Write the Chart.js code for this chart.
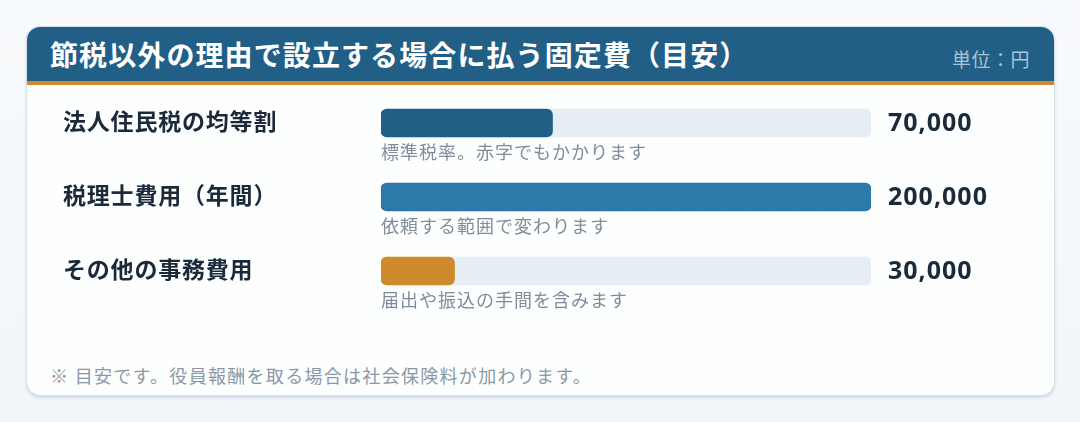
<!DOCTYPE html>
<html lang="ja">
<head>
<meta charset="utf-8">
<script src="https://cdn.jsdelivr.net/npm/chart.js@4.4.1/dist/chart.umd.min.js"></script>
<style>
  html, body { margin: 0; padding: 0; }
  body {
    width: 1080px; height: 422px; overflow: hidden;
    background: linear-gradient(180deg, #f8fafc 0%, #f1f6fa 100%);
    font-family: "Noto Sans CJK JP", "Noto Sans", sans-serif;
    position: relative;
  }
  .card {
    position: absolute; left: 26px; top: 26px; width: 1027px; height: 368px;
    background: #fdfefe; border: 1px solid #d6e1ea; border-radius: 14px;
    box-shadow: 0 2px 3px rgba(150, 175, 200, 0.35);
    overflow: hidden;
  }
  .head {
    position: absolute; left: 0; top: 0; right: 0; height: 54px;
    background: #215f87; border-bottom: 4px solid #cf8a2c;
  }
  .title {
    position: absolute; left: 23px; top: 27px; transform: translateY(-50%);
    color: #fff; font-size: 28px; font-weight: 700; line-height: 1; white-space: nowrap;
    letter-spacing: 1.1px;
  }
  .unit {
    position: absolute; right: 24px; top: 31px; transform: translateY(-50%);
    color: #a9c3d8; font-size: 19px; line-height: 1; letter-spacing: 0.5px;
  }
  .foot {
    position: absolute; left: 23px; top: 348px; transform: translateY(-50%);
    color: #8a98a6; font-size: 18px; line-height: 1; white-space: nowrap;
    letter-spacing: 1.3px;
  }
  #wrap { position: absolute; left: 0; top: 58px; width: 1027px; height: 260px; }
</style>
</head>
<body>
<div class="card">
  <div class="head">
    <div class="title">節税以外の理由で設立する場合に払う固定費（目安）</div>
    <div class="unit">単位：円</div>
  </div>
  <div id="wrap"><canvas id="chart1"></canvas></div>
  <div class="foot">※ 目安です。役員報酬を取る場合は社会保険料が加わります。</div>
</div>
<script>
var categories = ["法人住民税の均等割", "税理士費用（年間）", "その他の事務費用"];
var amounts = [70000, 200000, 30000];
var notes = ["標準税率。赤字でもかかります", "依頼する範囲で変わります", "届出や振込の手間を含みます"];
var scaleMax = 200000;
var trackValues = [scaleMax, scaleMax, scaleMax];

// light diagonal hatch on the middle bar
function hatch(base, line) {
  var p = document.createElement("canvas");
  p.width = 6; p.height = 6;
  var g = p.getContext("2d");
  g.fillStyle = base;
  g.fillRect(0, 0, 6, 6);
  g.strokeStyle = line;
  g.lineWidth = 1;
  g.beginPath();
  g.moveTo(0, 6); g.lineTo(6, 0);
  g.stroke();
  return g.createPattern(p, "repeat");
}

var barColors = ["#215f87", hatch("#2e7aaa", "#2b74a2"), "#cf8a2c"];

function spacing(c, v) {
  if ("letterSpacing" in c) c.letterSpacing = v;
}

var textPlugin = {
  id: "rowText",
  afterDatasetsDraw: function (chart) {
    var c = chart.ctx;
    var meta = chart.getDatasetMeta(0);
    var xs = chart.scales.x;
    c.save();
    meta.data.forEach(function (bar, i) {
      var y = bar.y;
      c.textBaseline = "middle";
      c.textAlign = "left";
      c.fillStyle = "#1b2a3a";
      c.font = "700 23px 'Noto Sans CJK JP', sans-serif";
      spacing(c, "0.8px");
      c.fillText(categories[i], 36, y - 2);

      c.font = "700 25px 'Noto Sans', 'Noto Sans CJK JP', sans-serif";
      spacing(c, "1px");
      c.fillText(amounts[i].toLocaleString("en-US"), xs.right + 17, y + 1);

      c.fillStyle = "#7f8c9a";
      c.font = "400 18px 'Noto Sans CJK JP', sans-serif";
      spacing(c, "1px");
      c.fillText(notes[i], xs.left, y + 29);
      spacing(c, "0px");
    });
    c.restore();
  }
};

var ctx = document.getElementById("chart1");

var chart1 = new Chart(ctx, {
  type: "bar",
  data: {
    labels: categories,
    datasets: [{
      data: amounts,
      backgroundColor: barColors,
      borderRadius: 6,
      borderSkipped: false,
      barThickness: 28,
      grouped: false
    }, {
      data: trackValues,
      backgroundColor: "#e6edf5",
      borderRadius: 6,
      borderSkipped: false,
      barThickness: 28,
      grouped: false
    }]
  },
  options: {
    indexAxis: "y",
    responsive: true,
    maintainAspectRatio: false,
    animation: false,
    layout: { padding: { left: 354, right: 183, top: 1, bottom: 37 } },
    scales: {
      x: { display: false, min: 0, max: scaleMax },
      y: { display: false }
    },
    plugins: {
      legend: { display: false },
      tooltip: { enabled: false }
    }
  },
  plugins: [textPlugin]
});
</script>
</body>
</html>
